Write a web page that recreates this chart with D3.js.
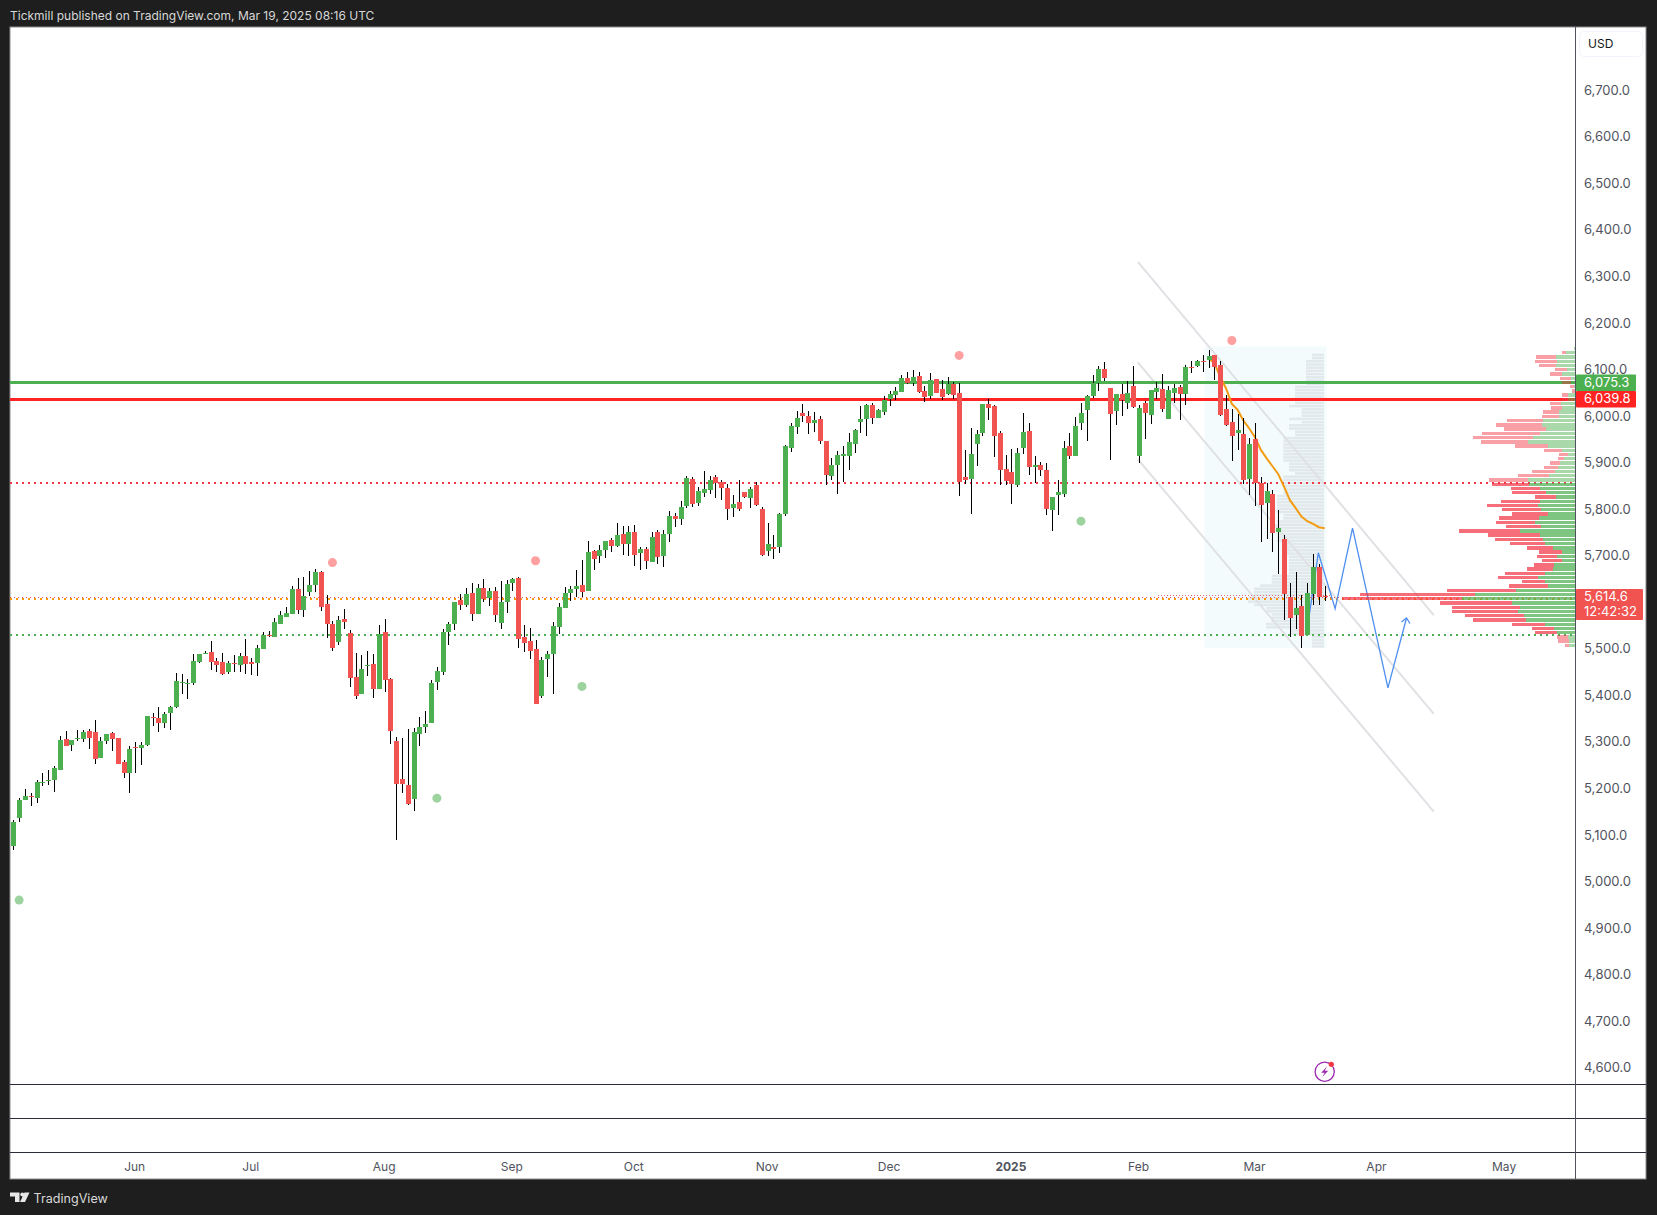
<!DOCTYPE html>
<html>
<head>
<meta charset="utf-8">
<title>Tickmill chart</title>
<script src="https://cdn.jsdelivr.net/npm/d3@7"></script>
<style>
  html, body { margin: 0; padding: 0; background: #1e1e1e; }
  svg { display: block; }
  text { font-family: Inter, "Open Sans", sans-serif; }
  .axis text { fill: #50535e; }
  .axis .domain, .axis line { display: none; }
</style>
</head>
<body>
<div id="chart"></div>
<script>
// candles, one value per session
var barOpen = [
  5080,5140,5177,5187,5183,5215,5220,5220,5243,5308,
  5297,5310,5310,5326,5324,5269,5305,5322,5311,5260,
  5235,5291,5290,5296,5356,5354,5344,5364,5378,5431,
  5428,5430,5475,5493,5496,5477,5474,5452,5472,5469,
  5487,5474,5473,5503,5532,5529,5557,5572,5578,5631,
  5587,5625,5640,5668,5599,5556,5518,5567,5537,5442,
  5406,5467,5470,5417,5539,5438,5305,5223,5210,5181,
  5320,5335,5343,5432,5453,5539,5556,5608,5597,5623,
  5578,5633,5612,5627,5558,5603,5644,5655,5528,5520,
  5502,5401,5481,5492,5550,5591,5623,5631,5640,5627,
  5713,5702,5715,5737,5724,5749,5728,5754,5709,5717,
  5689,5754,5702,5749,5788,5782,5809,5868,5816,5837,
  5844,5872,5861,5848,5805,5818,5840,5827,5855,5803,
  5713,5722,5722,5792,5934,5979,6009,6003,5988,5996,
  5949,5874,5898,5917,5917,5943,5990,5996,6027,5999,
  6012,6040,6048,6055,6085,6074,6089,6057,6046,6082,
  6061,6050,6072,6052,5872,5868,5943,5966,6029,6024,
  5966,5889,5883,5855,5934,5971,5893,5898,5887,5801,
  5833,5835,5938,5917,5988,6016,6046,6074,6104,6063,
  6014,6050,6031,6067,5917,6031,6005,6055,6061,5996,
  6052,6065,6050,6108,6110,6121,6123,6134,6112,6018,
  5990,5966,5964,5868,5953,5860,5816,5835,5754,5739,
  5613,5575,5595,5532,5620,5678,5616];
var barHigh = [
  5136,5182,5201,5192,5221,5237,5242,5251,5315,5326,
  5306,5328,5328,5330,5349,5313,5320,5325,5311,5264,
  5294,5303,5303,5358,5365,5378,5368,5380,5450,5449,
  5438,5492,5492,5498,5520,5483,5494,5477,5489,5494,
  5524,5483,5511,5539,5541,5569,5584,5593,5638,5655,
  5657,5670,5674,5670,5618,5563,5573,5588,5543,5494,
  5489,5498,5492,5554,5567,5440,5313,5311,5330,5333,
  5356,5369,5436,5464,5545,5560,5603,5621,5633,5644,
  5642,5653,5633,5636,5648,5651,5655,5657,5554,5548,
  5522,5485,5498,5560,5601,5636,5638,5672,5694,5734,
  5715,5726,5734,5741,5773,5767,5767,5769,5722,5722,
  5754,5758,5758,5799,5795,5820,5874,5872,5850,5885,
  5874,5876,5865,5857,5833,5865,5840,5850,5861,5807,
  5773,5747,5795,5941,5988,6014,6029,6014,6012,6003,
  5949,5913,5928,5939,5966,5975,6024,6029,6031,6018,
  6046,6057,6065,6091,6097,6102,6097,6067,6095,6082,
  6080,6087,6076,6074,5930,5977,5973,6029,6040,6027,
  5971,5919,5932,5934,6009,5988,5917,5904,5902,5829,
  5865,5949,5966,6001,6031,6048,6091,6110,6119,6063,
  6050,6072,6078,6110,6027,6035,6059,6076,6093,6067,
  6072,6070,6113,6121,6123,6134,6145,6134,6121,6048,
  6018,6007,5999,5956,5988,5872,5859,5844,5801,5747,
  5644,5668,5618,5644,5706,5685,5638];
var barLow = [
  5071,5131,5177,5166,5172,5209,5211,5196,5243,5293,
  5284,5305,5303,5288,5256,5269,5299,5284,5256,5226,
  5194,5237,5254,5295,5338,5323,5333,5329,5376,5406,
  5394,5424,5473,5492,5458,5454,5447,5449,5454,5454,
  5449,5447,5445,5503,5529,5529,5557,5572,5578,5578,
  5572,5616,5625,5585,5525,5497,5512,5546,5421,5394,
  5406,5445,5398,5417,5411,5299,5091,5192,5168,5155,
  5293,5322,5343,5414,5447,5511,5543,5586,5593,5563,
  5578,5603,5595,5560,5545,5580,5627,5505,5496,5481,
  5384,5397,5442,5406,5535,5591,5606,5614,5614,5627,
  5672,5687,5698,5711,5722,5704,5702,5681,5672,5674,
  5689,5685,5679,5732,5765,5769,5805,5807,5809,5829,
  5835,5827,5822,5779,5786,5799,5827,5805,5809,5702,
  5702,5696,5709,5788,5926,5964,5990,5964,5969,5943,
  5855,5866,5835,5861,5887,5924,5966,5960,5986,5999,
  6005,6024,6037,6055,6072,6067,6052,6033,6040,6052,
  6037,6048,6040,5831,5857,5792,5896,5960,5994,5915,
  5855,5855,5814,5850,5921,5876,5859,5874,5790,5756,
  5790,5829,5911,5917,5973,5949,6042,6057,6078,5908,
  5984,6003,6018,6020,5902,5954,5986,6040,6012,5996,
  6031,5994,6027,6095,6108,6097,6106,6080,6003,5981,
  5906,5930,5857,5833,5809,5732,5739,5711,5663,5565,
  5528,5545,5504,5532,5597,5597,5605];
var barClose = [
  5130,5179,5187,5184,5217,5216,5221,5247,5307,5293,
  5306,5311,5323,5312,5267,5305,5320,5310,5256,5235,
  5288,5290,5296,5358,5355,5344,5363,5378,5434,5432,
  5429,5477,5492,5494,5475,5469,5449,5472,5471,5487,
  5471,5471,5504,5532,5531,5560,5575,5580,5631,5587,
  5616,5640,5668,5593,5555,5505,5565,5561,5441,5402,
  5459,5468,5417,5534,5436,5327,5213,5213,5170,5324,
  5335,5341,5429,5455,5539,5556,5603,5597,5621,5578,
  5633,5610,5627,5575,5603,5642,5653,5524,5515,5498,
  5384,5479,5492,5552,5593,5623,5631,5638,5625,5711,
  5696,5715,5734,5724,5747,5728,5754,5704,5717,5691,
  5743,5700,5749,5788,5782,5807,5870,5814,5842,5846,
  5865,5859,5848,5803,5814,5803,5829,5846,5812,5704,
  5728,5717,5792,5939,5982,5999,6003,5988,5994,5949,
  5876,5898,5919,5921,5947,5973,5996,6027,5999,6016,
  6037,6050,6057,6085,6074,6087,6055,6044,6080,6052,
  6044,6072,6048,5861,5866,5921,5964,6029,6020,5960,
  5887,5863,5857,5923,5969,5893,5898,5887,5803,5829,
  5840,5934,5917,5981,6009,6046,6074,6104,6085,6007,
  6050,6037,6052,6022,6020,6009,6059,6063,6018,6059,
  6063,6050,6108,6107,6121,6120,6132,6108,6005,5984,
  5960,5973,5865,5943,5858,5812,5842,5752,5762,5620,
  5569,5590,5530,5623,5678,5614,5613];

// 5,600.0 sits under the last price tag, so it is not drawn
var priceTicks = [4600,4700,4800,4900,5000,5100,5200,5300,5400,5500,5700,5800,5900,6000,6100,6200,6300,6400,6500,6600,6700];
var monthBars = [21,41,64,86,107,130,151,172,194,214,235,257];
var monthLabels = ["Jun","Jul","Aug","Sep","Oct","Nov","Dec","2025","Feb","Mar","Apr","May"];

// orange anchored line over the last sessions
var orangeBars = [206,207,208,209,210,211,212,213,214,215,216,217,218,219,220,221,222,223,224,225,226];
var orangeValues = [6127,6116,6087,6062,6029,6016,5993,5976,5957,5930,5912,5895,5878,5851,5822,5805,5787,5777,5771,5764,5762];

// drawn forecast zigzag
var zigzagBars = [223.3,224.9,227.8,230.8,236.9,240.1];
var zigzagValues = [5572,5709,5589,5762,5419,5569];

// channel lines: [barFrom, priceFrom, barTo, priceTo]
var channelTop = [193.8,6334,244.8,5575];
var channelMid = [193.8,6118,244.8,5363];
var channelLow = [193.8,5910,244.8,5153];

// horizontal levels
var levelGreen = 6075.3, levelRed = 6039.8, levelLast = 5614.6;
var dottedRed = 5859.6, dottedOrange = 5611, dottedGreen = 5533, dottedPoc = 5617;

// signal dots
var dotsRedBar = [55,90,163,210];
var dotsRedValue = [5688,5692,6133,6165];
var dotsGreenBar = [1,73,98,184];
var dotsGreenValue = [4963,5182,5422,5777];

// visible range profile, top row first
var profileUp = [4,28,58,55,58,25,40,13,13,4,1,22,22,43,40,49,49,97,100,88,106,127,142,82,40,22,34,46,52,61,79,142,139,106,88,58,106,112,103,82,109,121,103,166,106,97,91,67,40,55,40,64,67,91,112,91,82,178,301,340,190,166,172,154,148,91,64,55,22,19,18];
var profileDown = [0,12,60,66,51,36,36,33,27,12,9,18,18,33,33,48,51,108,138,126,174,180,141,99,54,27,18,30,42,69,93,117,111,87,102,63,117,153,117,108,120,117,105,183,156,144,105,78,69,60,60,60,78,120,120,69,117,207,345,360,216,204,198,177,159,99,66,66,33,33,13];

// fixed range profile inside the shaded box, top row first
var fixedVolume = [36,36,54,54,54,54,54,54,54,54,87,87,87,87,87,87,105,67,67,67,105,67,105,105,87,87,122,122,122,122,122,122,122,122,105,105,105,87,122,122,122,122,122,122,141,141,141,141,141,141,122,122,141,141,141,141,141,141,141,122,122,122,122,105,105,105,105,105,105,157,157,157,192,210,210,210,228,228,210,174,174,157,157,157,174,174,102,102,36,36,36,36];

var width = 1657, height = 1215;
var plot = { left: 10, right: 1575, top: 27, bottom: 1179, edge: 1646 };

var x = d3.scaleLinear().domain([0, 226]).range([13.3, 1324.7]);
var y = d3.scaleLinear().domain([4600, 6700]).range([1069.05, 91.5]);
var profileScale = d3.scaleLinear().domain([0, 1000]).range([0, 333.3]);

var up = "#4caf50", down = "#f05350";

var svg = d3.select("#chart").append("svg")
    .attr("width", width)
    .attr("height", height);

// page + plot background
svg.append("rect").attr("width", width).attr("height", height).attr("fill", "#1e1e1e");
svg.append("rect")
    .attr("x", 10).attr("y", 27)
    .attr("width", plot.edge - 10).attr("height", plot.bottom - 27)
    .attr("fill", "#fff")
    .attr("stroke", "#8c8c8c");

svg.append("text")
    .attr("x", 10).attr("y", 19.5)
    .attr("fill", "#d8d8d8")
    .attr("font-size", 12)
    .text("Tickmill published on TradingView.com, Mar 19, 2025 08:16 UTC");

var chart = svg.append("g");

// shaded box of the fixed range profile
chart.append("rect")
    .attr("x", x(205.3))
    .attr("y", y(6152))
    .attr("width", x(226.3) - x(205.3))
    .attr("height", y(5505) - y(6152))
    .attr("fill", "#f3fbfd");

var fixedBand = d3.scaleBand()
    .domain(d3.range(fixedVolume.length))
    .range([y(6137), y(5505)])
    .paddingInner(0.2);

chart.selectAll(".fixed-row")
    .data(fixedVolume)
  .enter().append("rect")
    .attr("class", "fixed-row")
    .attr("x", function(d) { return 1324 - profileScale(d); })
    .attr("y", function(d, i) { return fixedBand(i); })
    .attr("width", function(d) { return profileScale(d); })
    .attr("height", fixedBand.bandwidth())
    .attr("fill", "#e2e9ec");

// channel
chart.selectAll(".channel")
    .data([channelTop, channelMid, channelLow])
  .enter().append("line")
    .attr("class", "channel")
    .attr("x1", function(d) { return x(d[0]); })
    .attr("y1", function(d) { return y(d[1]); })
    .attr("x2", function(d) { return x(d[2]); })
    .attr("y2", function(d) { return y(d[3]); })
    .attr("stroke", "#e0e1e4")
    .attr("stroke-width", 2);

// levels, half a pixel down so the snapping lands on the same rows
function level(value, color, w, dash) {
  chart.append("line")
      .attr("x1", plot.left)
      .attr("x2", plot.right)
      .attr("y1", y(value) + 0.5).attr("y2", y(value) + 0.5)
      .attr("stroke", color)
      .attr("stroke-width", w)
      .attr("stroke-dasharray", dash)
      .attr("shape-rendering", "crispEdges");
}
level(levelGreen, "#4caf50", 3, null);
level(levelRed, "#ff2323", 3, null);
level(dottedRed, "#f23645", 2, "2 4");
level(dottedGreen, "#4caf50", 2, "2 4");
level(dottedOrange, "#ff9800", 2, "2 4");
level(levelLast, "#f05350", 1, "1 3");

chart.append("line")
    .attr("x1", x(197.3)).attr("x2", x(226.9))
    .attr("y1", y(dottedPoc)).attr("y2", y(dottedPoc))
    .attr("stroke", "#e0707a")
    .attr("stroke-dasharray", "1 2")
    .attr("shape-rendering", "crispEdges");

// orange line
var orangeLine = d3.line()
    .x(function(d, i) { return x(orangeBars[i]); })
    .y(function(d) { return y(d); });

chart.append("path")
    .attr("d", orangeLine(orangeValues))
    .attr("fill", "none")
    .attr("stroke", "#f39c12")
    .attr("stroke-width", 2);

// zigzag
var zigzagLine = d3.line()
    .x(function(d, i) { return x(zigzagBars[i]); })
    .y(function(d) { return y(d); });

chart.append("path")
    .attr("d", zigzagLine(zigzagValues))
    .attr("fill", "none")
    .attr("stroke", "#4f8ff0")
    .attr("stroke-width", 1.3);

var tipX = x(zigzagBars[5]), tipY = y(zigzagValues[5]);
chart.append("path")
    .attr("d", "M" + (tipX - 5) + "," + (tipY + 4) + "L" + tipX + "," + tipY + "L" + (tipX + 3.5) + "," + (tipY + 5.5))
    .attr("fill", "none")
    .attr("stroke", "#4f8ff0")
    .attr("stroke-width", 1.3);

// candles
var bars = chart.selectAll(".bar")
    .data(barOpen)
  .enter().append("g")
    .attr("class", "bar")
    .attr("shape-rendering", "crispEdges");

bars.append("line")
    .attr("x1", function(d, i) { return Math.round(x(i)) + 0.5; })
    .attr("x2", function(d, i) { return Math.round(x(i)) + 0.5; })
    .attr("y1", function(d, i) { return y(barHigh[i]); })
    .attr("y2", function(d, i) { return y(barLow[i]); })
    .attr("stroke", "#000");

bars.append("rect")
    .attr("x", function(d, i) { return Math.round(x(i)) - 2; })
    .attr("y", function(d, i) { return y(Math.max(d, barClose[i])); })
    .attr("width", 5)
    .attr("height", function(d, i) { return Math.max(1, Math.abs(y(d) - y(barClose[i]))); })
    .attr("fill", function(d, i) { return barClose[i] >= d ? up : down; });

// signal dots
chart.selectAll(".dot-red")
    .data(dotsRedBar)
  .enter().append("circle")
    .attr("class", "dot-red")
    .attr("cx", function(d) { return x(d); })
    .attr("cy", function(d, i) { return y(dotsRedValue[i]); })
    .attr("r", 4.5)
    .attr("fill", "#ff5252").attr("fill-opacity", 0.55);

chart.selectAll(".dot-green")
    .data(dotsGreenBar)
  .enter().append("circle")
    .attr("class", "dot-green")
    .attr("cx", function(d) { return x(d); })
    .attr("cy", function(d, i) { return y(dotsGreenValue[i]); })
    .attr("r", 4.5)
    .attr("fill", "#4caf50").attr("fill-opacity", 0.55);

// visible range profile, hugging the price axis
var profileBand = d3.scaleBand()
    .domain(d3.range(profileUp.length))
    .range([y(6151.5), y(5506.4)])
    .paddingInner(0.2);

function inValueArea(i) { return i >= 32 && i <= 67; }

var rows = chart.selectAll(".profile-row")
    .data(profileUp)
  .enter().append("g")
    .attr("class", "profile-row")
    .attr("shape-rendering", "crispEdges")
    .attr("fill-opacity", function(d, i) { return inValueArea(i) ? 0.72 : 0.48; });

rows.append("rect")
    .attr("x", function(d) { return plot.right - profileScale(d); })
    .attr("y", function(d, i) { return profileBand(i); })
    .attr("width", function(d) { return profileScale(d); })
    .attr("height", profileBand.bandwidth())
    .attr("fill", up);

rows.append("rect")
    .attr("x", function(d, i) { return plot.right - profileScale(d + profileDown[i]); })
    .attr("y", function(d, i) { return profileBand(i); })
    .attr("width", function(d, i) { return profileScale(profileDown[i]); })
    .attr("height", profileBand.bandwidth())
    .attr("fill", "#f23645");

// pane separators and axis line
svg.selectAll(".pane")
    .data([1084, 1118, 1152])
  .enter().append("line")
    .attr("class", "pane")
    .attr("x1", 10).attr("x2", plot.edge)
    .attr("y1", function(d) { return d + 0.5; })
    .attr("y2", function(d) { return d + 0.5; })
    .attr("stroke", "#2a2e39");

svg.append("line")
    .attr("x1", plot.right + 0.5).attr("x2", plot.right + 0.5)
    .attr("y1", 27).attr("y2", plot.bottom)
    .attr("stroke", "#50535e");

// axes
var yAxis = d3.axisRight(y)
    .tickValues(priceTicks)
    .tickSize(0)
    .tickPadding(9)
    .tickFormat(d3.format(",.1f"));

svg.append("g")
    .attr("class", "axis y-axis")
    .attr("transform", "translate(" + plot.right + ",-1.4)")
    .call(yAxis)
    .selectAll("text")
    .attr("font-size", 13);

var xAxis = d3.axisBottom(x)
    .tickValues(monthBars)
    .tickSize(0)
    .tickPadding(9)
    .tickFormat(function(d, i) { return monthLabels[i]; });

svg.append("g")
    .attr("class", "axis x-axis")
    .attr("transform", "translate(-1,1153)")
    .call(xAxis)
    .selectAll("text")
    .attr("font-size", 12)
    .attr("font-weight", function(d, i) { return monthLabels[i] === "2025" ? 700 : 400; });

// price tags
function priceTag(value, color, h, right) {
  svg.append("rect")
      .attr("x", plot.right + 1)
      .attr("y", y(value) - h / 2 + 0.5)
      .attr("width", right - plot.right - 1)
      .attr("height", h)
      .attr("rx", 1)
      .attr("fill", color);
  svg.append("text")
      .attr("x", plot.right + 9)
      .attr("y", y(value) + 4.4)
      .attr("fill", "#fff")
      .attr("font-size", 13)
      .text(d3.format(",.1f")(value));
}
priceTag(levelGreen, up, 16.5, 1636);
priceTag(levelRed, "#ff2323", 16.5, 1636);

svg.append("rect")
    .attr("x", plot.right + 1).attr("y", 589)
    .attr("width", 1643 - plot.right - 1).attr("height", 31)
    .attr("rx", 1)
    .attr("fill", down);
svg.append("text")
    .attr("x", plot.right + 9).attr("y", 601)
    .attr("fill", "#fff").attr("font-size", 13)
    .text(d3.format(",.1f")(levelLast));
svg.append("text")
    .attr("x", plot.right + 9).attr("y", 616)
    .attr("fill", "#fff").attr("font-size", 13)
    .text("12:42:32");

// currency button
svg.append("rect")
    .attr("x", 1579.5).attr("y", 31.5)
    .attr("width", 63).attr("height", 25)
    .attr("rx", 5)
    .attr("fill", "#fff")
    .attr("stroke", "#f0f3fa");
svg.append("text")
    .attr("x", 1588).attr("y", 47.5)
    .attr("fill", "#131722").attr("font-size", 12)
    .text("USD");

// flash icon
var icon = svg.append("g").attr("transform", "translate(1324.7,1071.7)");
icon.append("circle").attr("r", 9.6).attr("fill", "#fff").attr("stroke", "#9c27b0").attr("stroke-width", 1.3);
icon.append("path").attr("d", "M2.5,-5.5L-3.5,1H0L-2.5,5.5L3.5,-1H0Z").attr("fill", "#9c27b0");
icon.append("circle").attr("cx", 6.6).attr("cy", -7.4).attr("r", 2.6).attr("fill", "#f23645");

// footer logo
var logo = svg.append("g").attr("fill", "#e8e8e8");
logo.append("path").attr("d", "M10,1192.5H19.5V1202H15V1196.5H10Z");
logo.append("circle").attr("cx", 22.3).attr("cy", 1194.5).attr("r", 2);
logo.append("path").attr("d", "M24.5,1192.5H29.5L25,1202H20Z");
svg.append("text")
    .attr("x", 33.5).attr("y", 1203)
    .attr("fill", "#d8d8d8")
    .attr("font-size", 12.6)
    .text("TradingView");
</script>
</body>
</html>
